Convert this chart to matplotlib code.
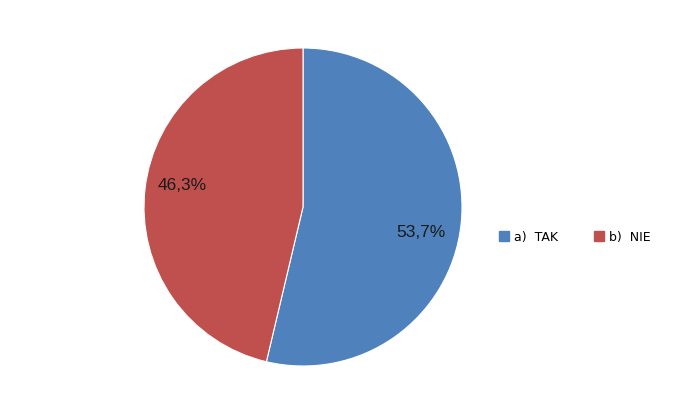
import matplotlib
matplotlib.use("Agg")
import matplotlib.pyplot as plt
from matplotlib.patches import Patch
import numpy as np

labels = ["a)  TAK", "b)  NIE"]
values = [53.7, 46.3]
colors = ["#4F81BD", "#C0504D"]

W, H = 697, 416
fig = plt.figure(figsize=(W / 100, H / 100), dpi=100)
cx, cy, r = 303, 207, 159
ax = fig.add_axes([(cx - r) / W, (H - cy - r) / H, 2 * r / W, 2 * r / H])

wedges, _ = ax.pie(values, colors=colors, startangle=90, counterclock=False,
                   wedgeprops=dict(linewidth=0.8, edgecolor="white"))
ax.set_xlim(-1, 1)
ax.set_ylim(-1, 1)
ax.set_aspect("equal")

# label spots (angle in degrees, radius fraction), roughly where Excel put them
spots = [(-12.4, 0.76), (170.0, 0.77)]
for v, (a, d) in zip(values, spots):
    t = np.deg2rad(a)
    ax.text(d * np.cos(t), d * np.sin(t), f"{v:.1f}%".replace(".", ","),
            ha="center", va="center", fontsize=12.5, family="Liberation Sans",
            color="#1a1a1a")

handles = [Patch(facecolor=c, edgecolor=c) for c in colors]
fig.legend(handles, labels, loc="center", bbox_to_anchor=(575 / W, 1 - 237 / H),
           ncol=2, frameon=False, fontsize=9, handlelength=0.8, handleheight=0.8,
           handletextpad=0.4, columnspacing=2.9)

fig.savefig("out.png", dpi=100)
